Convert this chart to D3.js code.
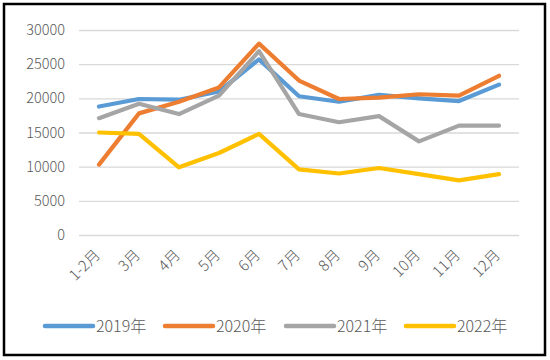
<!DOCTYPE html>
<html><head><meta charset="utf-8">
<script src="https://cdn.jsdelivr.net/npm/d3@7"></script>
<style>body{margin:0;background:#fff}svg{display:block}</style>
</head><body>
<svg id="c" width="550" height="360"></svg>
<script>
const categories = ["1-2月","3月","4月","5月","6月","7月","8月","9月","10月","11月","12月"];
const seriesNames = ["2019年","2020年","2021年","2022年"];
const s2019 = [18800,19900,19800,21000,25700,20300,19500,20500,20000,19600,22000];
const s2020 = [10300,17800,19500,21600,28000,22600,19900,20100,20600,20400,23300];
const s2021 = [17100,19200,17700,20400,26900,17700,16500,17400,13700,16000,16000];
const s2022 = [15000,14800,9900,12000,14800,9600,9000,9800,8900,8000,8900];
const yTicks = [0,5000,10000,15000,20000,25000,30000];
const colors = ["#5B9BD5","#ED7D31","#A5A5A5","#FFC000"];

const all = [s2019,s2020,s2021,s2022];
const svg = d3.select("#c");
svg.append("rect").attr("x",4).attr("y",4).attr("width",541).attr("height",351)
  .attr("fill","#fff").attr("stroke","#000").attr("stroke-width",2.5);

const x = d3.scaleBand().domain(categories).range([79,519]);
const y = d3.scaleLinear().domain([0,30000]).range([235,30]);
const font = "'Noto Sans CJK SC','DejaVu Sans',sans-serif";

const gy = svg.append("g").attr("transform","translate(79,0)")
  .call(d3.axisLeft(y).tickValues(yTicks).tickSize(-440).tickFormat(d3.format("d")).tickPadding(14));
gy.select(".domain").remove();
gy.selectAll(".tick line").attr("stroke","#D9D9D9").attr("stroke-width",1.3);
gy.selectAll(".tick text").attr("fill","#595959").style("font-family",font).style("font-size","14.5px").style("font-weight","300");

const gx = svg.append("g").attr("transform","translate(0,235)")
  .call(d3.axisBottom(x).tickSize(0).tickPadding(0));
gx.select(".domain").remove();
gx.selectAll(".tick text").attr("fill","#595959").style("font-family",font).style("font-size","15px").style("font-weight","300")
  .attr("text-anchor","end").attr("dy","0").attr("transform","translate(2,21) rotate(-45)");

const line = d3.line().x((d,i)=>x(categories[i])+x.bandwidth()/2).y(d=>y(d));
all.forEach((s,k)=>{
  svg.append("path").datum(s).attr("d",line).attr("fill","none")
    .attr("stroke",colors[k]).attr("stroke-width",4.2).attr("stroke-linejoin","round").attr("stroke-linecap","round");
});

const legX = [43,163,284,404];
seriesNames.forEach((n,k)=>{
  const g = svg.append("g").attr("transform",`translate(${legX[k]},326)`);
  g.append("line").attr("x1",2).attr("x2",50).attr("y1",0).attr("y2",0)
    .attr("stroke",colors[k]).attr("stroke-width",4.5).attr("stroke-linecap","round");
  g.append("text").attr("x",53).attr("y",6).text(n).attr("fill","#595959")
    .style("font-family",font).style("font-size","16px").style("font-weight","300");
});
</script>
</body></html>
